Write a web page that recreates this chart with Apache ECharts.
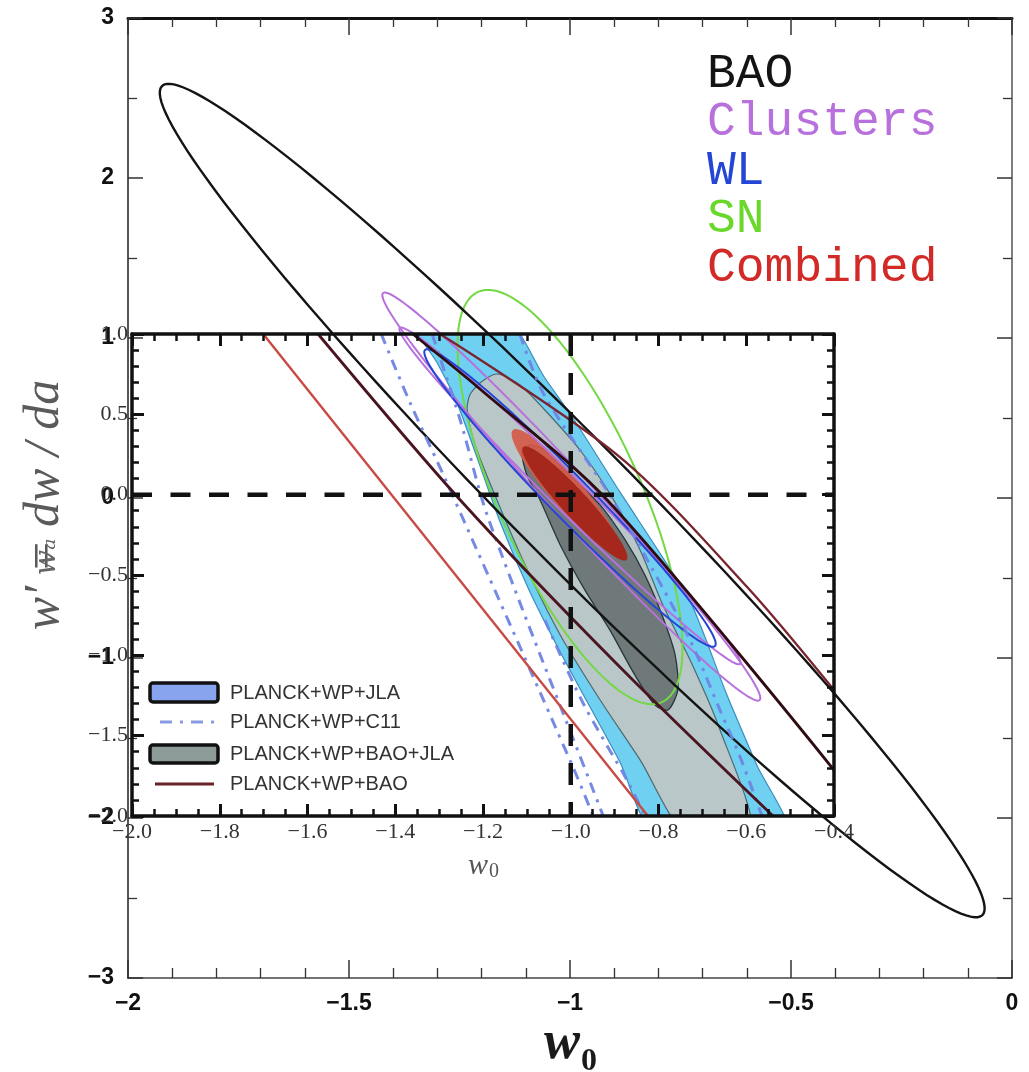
<!DOCTYPE html>
<html>
<head>
<meta charset="utf-8">
<title>w0 - wa constraints</title>
<script src="https://cdn.jsdelivr.net/npm/echarts@6/dist/echarts.min.js"></script>
<style>
  html, body { margin: 0; padding: 0; background: #ffffff; }
  #chart { width: 1029px; height: 1072px; }
</style>
</head>
<body>
<div id="chart"></div>
<script>
// ---------------- outer panel: forecast ellipses ----------------
// each entry: [centre w0, centre wa, tip w0, tip wa, minor/major axis ratio]
const baoEllipse       = [[-0.995, -0.016, -1.923, 2.575, 0.104]];
const clustersEllipses = [[-0.997,  0.009, -1.423, 1.281, 0.080],
                          [-1.000,  0.013, -1.385, 1.063, 0.070]];
const wlEllipse        = [[-1.000,  0.000, -1.328, 0.925, 0.100]];
const snEllipse        = [[-1.000,  0.006, -1.208, 1.288, 0.316]];
const combinedWide     = [[-1.011,  0.050, -1.129, 0.425, 0.200]];
const combinedCore     = [[-0.989, -0.034, -1.106, 0.319, 0.170]];

const probeNames  = ['BAO', 'Clusters', 'WL', 'SN', 'Combined'];
const probeColors = ['#141414', '#b770dc', '#2545d4', '#6ad82a', '#d22a26'];

// ---------------- inset panel: current constraints ----------------
// PLANCK+WP+JLA (filled band)
const jlaRegion = [
  [-1.362, 1.100], [-1.150, 1.100], [-1.059, 0.726], [-0.995, 0.477], [-0.888, 0.017],
  [-0.797, -0.363], [-0.724, -0.687], [-0.644, -1.247], [-0.576, -1.683], [-0.507, -2.112],
  [-0.806, -2.112], [-0.888, -1.664], [-0.956, -1.322], [-1.024, -0.979], [-1.093, -0.606],
  [-1.161, -0.170], [-1.218, 0.266], [-1.262, 0.589], [-1.303, 0.813]
];
// PLANCK+WP+BAO+JLA, outer and inner levels
const baoJlaOuter = [
  [-1.236, 0.527], [-1.230, 0.620], [-1.207, 0.695], [-1.168, 0.751], [-1.116, 0.683],
  [-1.059, 0.527], [-0.979, 0.278], [-0.906, -0.015], [-0.842, -0.344], [-0.790, -0.687],
  [-0.728, -1.029], [-0.664, -1.434], [-0.587, -2.112], [-0.737, -2.112], [-0.842, -1.651],
  [-0.933, -1.278], [-1.024, -0.873], [-1.104, -0.438], [-1.173, -0.002], [-1.218, 0.309]
];
const baoJlaInner = [
  [-1.111, 0.266], [-1.093, 0.309], [-1.059, 0.278], [-1.002, 0.122], [-0.933, -0.064],
  [-0.876, -0.282], [-0.831, -0.500], [-0.792, -0.749], [-0.762, -0.998], [-0.756, -1.216],
  [-0.778, -1.340], [-0.808, -1.309], [-0.854, -1.122], [-0.911, -0.842], [-0.968, -0.593],
  [-1.024, -0.313], [-1.070, -0.033], [-1.100, 0.122]
];
// PLANCK+WP+BAO contour edges (inner pair dark, outer pair lighter)
const planckBaoInnerUpper = [[-1.360, 1.000], [-1.207, 0.658], [-0.917, -0.033], [-0.400, -1.714]];
const planckBaoInnerLower = [[-1.576, 1.000], [-1.252, -0.033], [-0.888, -1.073], [-0.539, -2.000]];
const planckBaoOuterUpper = [[-1.298, 1.000], [-0.888, 0.234], [-0.598, -0.575], [-0.400, -1.216]];
const planckBaoOuterLower = [[-1.701, 1.000], [-0.824, -2.000]];
// PLANCK+WP+C11 contour edges (dash-dot)
const c11Edges = [
  [[-1.432, 1.000], [-1.366, 0.571], [-1.282, 0.073], [-0.995, -1.695], [-0.949, -2.000]],
  [[-1.316, 1.000], [-1.252, 0.465], [-1.189, -0.139], [-0.949, -1.838], [-0.926, -2.000]],
  [[-1.059, -0.780], [-0.972, -1.297], [-0.872, -1.776], [-0.831, -2.000]],
  [[-1.116, 1.000], [-1.063, 0.633], [-0.911, -0.002], [-0.819, -0.438], [-0.728, -0.905],
   [-0.660, -1.340], [-0.614, -1.633], [-0.564, -2.000]]
];
// fiducial model (cosmological constant)
const fiducial = { w0: -1.0, wa: 0.0 };

const insetLegendLabels = ['PLANCK+WP+JLA', 'PLANCK+WP+C11', 'PLANCK+WP+BAO+JLA', 'PLANCK+WP+BAO'];

// axis ranges and steps
const outerX = { min: -2, max: 0, step: 0.5, minor: 5 };
const outerY = { min: -3, max: 3, step: 1, minor: 2 };
const insetX = { min: -2.0, max: -0.4, step: 0.2, minor: 4 };
const insetY = { min: -2.0, max: 1.0, step: 0.5, minor: 5 };

// ---------------- helpers ----------------
const MINUS = '\u2212';
const fmtOuter = v => (Math.abs(v) < 1e-9 ? '0' : (v < 0 ? MINUS : '') + String(+Math.abs(v).toFixed(2)));
const fmtInset = v => (v < -1e-9 ? MINUS : '') + Math.abs(v).toFixed(1);

// ellipse from centre, one tip of the major axis, and axis ratio
function ellipseRenderer(stroke, fill, lineWidth) {
  return function (params, api) {
    const c = api.coord([api.value(0), api.value(1)]);
    const t = api.coord([api.value(2), api.value(3)]);
    const ux = t[0] - c[0], uy = t[1] - c[1];
    const k = api.value(4);
    const vx = -uy * k, vy = ux * k;
    const pts = [];
    const n = 160;
    for (let i = 0; i < n; i++) {
      const th = (i / n) * Math.PI * 2;
      const cs = Math.cos(th), sn = Math.sin(th);
      pts.push([c[0] + ux * cs + vx * sn, c[1] + uy * cs + vy * sn]);
    }
    return {
      type: 'polygon',
      shape: { points: pts },
      style: { fill: fill || 'none', stroke: stroke || 'none', lineWidth: lineWidth || 0 }
    };
  };
}

function ellipseSeries(data, stroke, fill, lineWidth) {
  return {
    type: 'custom', xAxisIndex: 0, yAxisIndex: 0, silent: true,
    data: data, encode: { x: [0, 2], y: [1, 3] },
    renderItem: ellipseRenderer(stroke, fill, lineWidth)
  };
}

// closed region traced through the inset's own axes
function regionSeries(points, fill, stroke, lineWidth) {
  return {
    type: 'custom', xAxisIndex: 2, yAxisIndex: 2, silent: true, clip: true,
    data: points,
    renderItem: function (params, api) {
      if (params.dataIndex !== 0) return null;
      return {
        type: 'polygon',
        shape: { points: points.map(p => api.coord(p)), smooth: 0.25 },
        style: { fill: fill, stroke: stroke, lineWidth: lineWidth }
      };
    }
  };
}

function insetLine(points, color, width, dash, opacity) {
  return {
    type: 'line', xAxisIndex: 2, yAxisIndex: 2, silent: true, clip: true,
    data: points, smooth: 0.3, symbol: 'none', showSymbol: false,
    lineStyle: { color: color, width: width, type: dash || 'solid', opacity: opacity == null ? 1 : opacity },
    z: 3
  };
}

function valueAxis(cfg) {
  return {
    type: 'value', gridIndex: cfg.grid, position: cfg.position,
    min: cfg.range.min, max: cfg.range.max, interval: cfg.range.step,
    splitLine: { show: false },
    axisLine: { show: true, onZero: false, lineStyle: { color: cfg.lineColor, width: cfg.lineWidth } },
    axisTick: { show: true, inside: true, length: cfg.tickLen, lineStyle: { color: cfg.tickColor, width: cfg.tickWidth } },
    minorTick: { show: true, splitNumber: cfg.range.minor, length: cfg.minorLen, lineStyle: { color: cfg.tickColor, width: cfg.minorWidth } },
    minorSplitLine: { show: false },
    axisLabel: cfg.label ? Object.assign({
      show: true, showMinLabel: true, showMaxLabel: true, hideOverlap: false
    }, cfg.label) : { show: false },
    z: cfg.z || 1
  };
}

const outerLabel = {
  formatter: fmtOuter, color: '#111', fontFamily: 'Liberation Sans', fontWeight: 'bold', fontSize: 23
};
const insetLabel = {
  formatter: fmtInset, color: '#333', fontFamily: 'Liberation Serif', fontSize: 22
};

const outerCommon = { grid: 0, tickColor: '#333', tickWidth: 1.5, minorWidth: 1.3 };
const insetCommon = { grid: 1, lineColor: '#111', lineWidth: 3.5, tickColor: '#111', tickWidth: 3, minorWidth: 2.5, z: 5 };

const option = {
  backgroundColor: '#ffffff',
  animation: false,
  grid: [
    { left: 128, top: 18, width: 884, height: 960, containLabel: false, outerBoundsMode: 'none' },
    { left: 132, top: 334, width: 702, height: 482, containLabel: false, outerBoundsMode: 'none', z: 5 }
  ],
  xAxis: [
    valueAxis(Object.assign({}, outerCommon, { position: 'bottom', range: outerX, lineColor: '#444', lineWidth: 1.5,
      tickLen: 18, minorLen: 10, label: Object.assign({ margin: 14 }, outerLabel) })),
    valueAxis(Object.assign({}, outerCommon, { position: 'top', range: outerX, lineColor: '#111', lineWidth: 3,
      tickLen: 17, minorLen: 9 })),
    valueAxis(Object.assign({}, insetCommon, { position: 'bottom', range: insetX, tickLen: 12, minorLen: 7,
      label: Object.assign({ margin: 5 }, insetLabel) })),
    valueAxis(Object.assign({}, insetCommon, { position: 'top', range: insetX, tickLen: 12, minorLen: 7 }))
  ],
  yAxis: [
    valueAxis(Object.assign({}, outerCommon, { position: 'left', range: outerY, lineColor: '#444', lineWidth: 1.8,
      tickLen: 15, minorLen: 9, label: Object.assign({ margin: 14 }, outerLabel) })),
    valueAxis(Object.assign({}, outerCommon, { position: 'right', range: outerY, lineColor: '#555', lineWidth: 1.5,
      tickLen: 15, minorLen: 9 })),
    valueAxis(Object.assign({}, insetCommon, { position: 'left', range: insetY, tickLen: 12, minorLen: 7,
      label: Object.assign({ margin: 4 }, insetLabel) })),
    valueAxis(Object.assign({}, insetCommon, { position: 'right', range: insetY, tickLen: 12, minorLen: 7 }))
  ],
  series: [
    // C11 edges sit underneath the filled regions
    ...c11Edges.map(e => insetLine(e, '#6f84e2', 3, [11, 7, 3, 7], 0.95)),
    regionSeries(jlaRegion, 'rgba(88,200,240,0.86)', '#3a8dbd', 1.2),
    regionSeries(baoJlaOuter, 'rgba(190,198,198,0.93)', '#4e686c', 1.2),
    regionSeries(baoJlaInner, 'rgba(108,118,118,0.96)', '#26363a', 1.3),
    insetLine(planckBaoOuterLower, '#c84a44', 2.4),
    insetLine(planckBaoOuterUpper, '#7a2630', 2.4),
    insetLine(planckBaoInnerLower, '#4a1420', 2.8),
    insetLine(planckBaoInnerUpper, '#2e0c12', 2.8),
    // combined constraint
    ellipseSeries(combinedWide, null, 'rgba(212,90,72,0.92)', 0),
    ellipseSeries(combinedCore, null, '#a6281d', 0),
    // individual probes
    ellipseSeries(snEllipse, '#74d844', null, 2),
    ellipseSeries(clustersEllipses, probeColors[1], null, 2),
    ellipseSeries(wlEllipse, probeColors[2], null, 2),
    ellipseSeries(baoEllipse, probeColors[0], null, 2.4),
    // fiducial cross-hair
    {
      type: 'line', xAxisIndex: 2, yAxisIndex: 2, silent: true, symbol: 'none', z: 6,
      data: [[fiducial.w0, insetY.max], [fiducial.w0, insetY.min]],
      lineStyle: { color: '#111', width: 4.5, type: [22, 17] }
    },
    {
      type: 'line', xAxisIndex: 2, yAxisIndex: 2, silent: true, symbol: 'none', z: 6,
      data: [[insetX.min, fiducial.wa], [insetX.max, fiducial.wa]],
      lineStyle: { color: '#111', width: 4.5, type: [20, 18.5] }
    }
  ],
  graphic: [
    // probe key, top right
    ...probeNames.map((name, i) => ({
      type: 'text', left: 707, top: 50 + i * 48.5, z: 20,
      style: { text: name, fill: probeColors[i], font: '48px "Liberation Mono", monospace' }
    })),
    // inset key
    { type: 'rect', shape: { x: 150, y: 683, width: 68, height: 19, r: 3 }, z: 20,
      style: { fill: '#88a4ee', stroke: '#111', lineWidth: 3.5 } },
    { type: 'line', shape: { x1: 160, y1: 722, x2: 214, y2: 722 }, z: 20,
      style: { stroke: '#8a9ae2', lineWidth: 3, lineDash: [12, 8, 3, 8] } },
    { type: 'rect', shape: { x: 150, y: 745, width: 68, height: 18, r: 3 }, z: 20,
      style: { fill: '#8c9a98', stroke: '#111', lineWidth: 3.5 } },
    { type: 'line', shape: { x1: 155, y1: 784, x2: 214, y2: 784 }, z: 20,
      style: { stroke: '#6a2028', lineWidth: 3 } },
    ...insetLegendLabels.map((t, i) => ({
      type: 'text', x: 230, y: [693, 722, 754, 784][i], z: 20,
      style: { text: t, fill: '#333', font: '20px "Liberation Sans", Arial', verticalAlign: 'middle' }
    })),
    // inset axis titles
    { type: 'text', x: 468, y: 866, z: 20,
      style: { text: 'w', fill: '#555', font: 'italic 30px "Liberation Serif"', verticalAlign: 'middle' } },
    { type: 'text', x: 489, y: 872, z: 20,
      style: { text: '0', fill: '#555', font: '20px "Liberation Serif"', verticalAlign: 'middle' } },
    { type: 'text', x: 47, y: 557, rotation: Math.PI / 2, z: 20,
      style: { text: 'w\u2090', fill: '#666', font: 'italic 30px "DejaVu Serif", "Liberation Serif"', align: 'center', verticalAlign: 'middle' } },
    // outer axis titles
    { type: 'text', x: 45, y: 505, rotation: Math.PI / 2, z: 19,
      style: { text: 'w\u2032 = dw / da', fill: '#5a5a5a', font: 'italic 50px "Liberation Serif"', align: 'center', verticalAlign: 'middle' } },
    { type: 'text', x: 562, y: 1044, z: 20,
      style: { text: 'w', fill: '#1a1a1a', font: 'italic bold 54px "Liberation Serif"', align: 'center', verticalAlign: 'middle' } },
    { type: 'text', x: 589, y: 1062, z: 20,
      style: { text: '0', fill: '#1a1a1a', font: 'bold 32px "Liberation Serif"', align: 'center', verticalAlign: 'middle' } }
  ]
};

const chart = echarts.init(document.getElementById('chart'), null, { renderer: 'canvas' });
chart.setOption(option);
</script>
</body>
</html>
